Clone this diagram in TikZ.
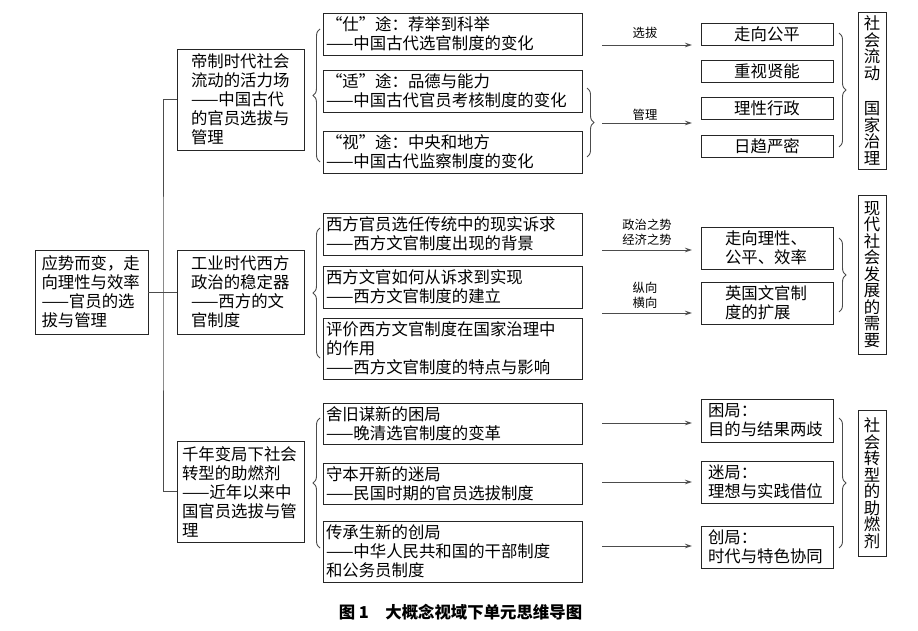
\documentclass[tikz,border=0pt]{standalone}
\usepackage{fontspec}
\setmainfont{Noto Sans CJK SC}
\usetikzlibrary{arrows.meta,decorations.pathreplacing}
\newcommand\oq{\makebox[16.4pt][r]{“}}
\newcommand\cq{\makebox[16.4pt][l]{”}}
\begin{document}
\begin{tikzpicture}[x=1pt,y=-1pt,
  line/.style={draw=black!70, line width=0.9pt},
  box/.style={draw=black!85, line width=0.9pt, inner sep=0pt, align=left, font=\fontsize{16.4}{19}\selectfont},
  l1box/.style={box, minimum width=127pt},
  l2box/.style={box, minimum width=259pt, text width=253pt},
  rbox/.style={box, minimum width=132pt},
  vbox/.style={draw=black!85, line width=0.9pt, inner sep=0pt, minimum width=28pt, text width=17pt, align=center, font=\fontsize{16.4}{16.5}\selectfont},
  lbl/.style={inner sep=0pt, align=center, font=\fontsize{12.3}{15}\selectfont},
  arr/.style={line, -{Stealth[length=7pt,width=4.5pt]}},
  brc/.style={line, decorate, decoration={brace, amplitude=7pt}},
]
\useasboundingbox (0,0) rectangle (918,631);

% root and level 1
\node[box, minimum width=113pt, minimum height=84pt, text width=100pt] (root) at (91.5,292) {应势而变，走\\向理性与效率\\——官员的选\\拔与管理};
\node[l1box, minimum height=101pt, text width=99pt] (L1a) at (240.5,99.5) {帝制时代社会\\流动的活力场\\——中国古代\\的官员选拔与\\管理};
\node[l1box, minimum height=84pt, text width=99pt] (L1b) at (240.5,292) {工业时代西方\\政治的稳定器\\——西方的文\\官制度};
\node[l1box, minimum height=101pt, text width=117pt] (L1c) at (240.5,491.5) {千年变局下社会\\转型的助燃剂\\——近年以来中\\国官员选拔与管\\理};

\coordinate (tr) at (163,292);
\draw[line] (root.east) -- (L1b.west);
\draw[line] (L1a.west) -| (tr) |- (L1c.west);

% level 2
\node[l2box, minimum height=42pt] (A1) at (452.5,34) {\oq 仕\cq 途：荐举到科举\\——中国古代选官制度的变化};
\node[l2box, minimum height=42pt] (A2) at (452.5,91) {\oq 适\cq 途：品德与能力\\——中国古代官员考核制度的变化};
\node[l2box, minimum height=42pt] (A3) at (452.5,152) {\oq 视\cq 途：中央和地方\\——中国古代监察制度的变化};
\node[l2box, minimum height=42pt] (B1) at (452.5,234) {西方官员选任传统中的现实诉求\\——西方文官制度出现的背景};
\node[l2box, minimum height=42pt] (B2) at (452.5,287) {西方文官如何从诉求到实现\\——西方文官制度的建立};
\node[l2box, minimum height=61pt] (B3) at (452.5,348.5) {评价西方文官制度在国家治理中\\的作用\\——西方文官制度的特点与影响};
\node[l2box, minimum height=41pt] (C1) at (452.5,423.5) {舍旧谋新的困局\\——晚清选官制度的变革};
\node[l2box, minimum height=41pt] (C2) at (452.5,483.5) {守本开新的迷局\\——民国时期的官员选拔制度};
\node[l2box, minimum height=61pt] (C3) at (452.5,551.5) {传承生新的创局\\——中华人民共和国的干部制度\\和公务员制度};

% left braces
\draw[brc] (320,162) -- (320,29);
\draw[brc] (320,358) -- (320,228);
\draw[brc] (320,548) -- (320,418);
% brace right of A2-A3
\draw[brc] (587,88) -- (587,157);

% arrows
\coordinate (s1) at (602,45);  \coordinate (e1) at (692,45);
\coordinate (s2) at (602,123); \coordinate (e2) at (692,123);
\coordinate (s3) at (602,250); \coordinate (e3) at (692,250);
\coordinate (s4) at (602,313); \coordinate (e4) at (692,313);
\coordinate (s5) at (602,423); \coordinate (e5) at (692,423);
\coordinate (s6) at (602,482); \coordinate (e6) at (692,482);
\coordinate (s7) at (602,546); \coordinate (e7) at (692,546);
\foreach \i in {1,...,7} {\draw[arr] (s\i) -- (e\i);}

\node[lbl] (lab1) at (645,33) {选拔};
\node[lbl] (lab2) at (645,115) {管理};
\node[lbl] (lab3) at (647,232.5) {政治之势\\经济之势};
\node[lbl] (lab4) at (645,295.5) {纵向\\横向};

% result boxes
\node[rbox, minimum height=22pt, text width=120pt, align=center] (R1) at (767,34) {走向公平};
\node[rbox, minimum height=22pt, text width=120pt, align=center] (R2) at (767,71) {重视贤能};
\node[rbox, minimum height=22pt, text width=120pt, align=center] (R3) at (767,108.5) {理性行政};
\node[rbox, minimum height=22pt, text width=120pt, align=center] (R4) at (767,146) {日趋严密};
\node[rbox, minimum height=42pt, text width=84pt] (R5) at (767,248) {走向理性、\\公平、效率};
\node[rbox, minimum height=42pt, text width=84pt] (R6) at (767,303) {英国文官制\\度的扩展};
\node[rbox, minimum height=43pt, text width=118pt] (R7) at (767,420.5) {困局：\\目的与结果两歧};
\node[rbox, minimum height=42pt, text width=118pt] (R8) at (767,482) {迷局：\\理想与实践借位};
\node[rbox, minimum height=42pt, text width=118pt] (R9) at (767,547) {创局：\\时代与特色协同};

% right braces
\draw[brc] (839,33) -- (839,147);
\draw[brc] (839,238) -- (839,312);
\draw[brc] (839,418) -- (839,548);

% vertical boxes
\node[vbox, minimum height=157pt] (V1) at (872,90.5) {社\\会\\流\\动\\[19pt]国\\家\\治\\理};
\node[vbox, minimum height=159pt] (V2) at (872,274.5) {现\\代\\社\\会\\发\\展\\的\\需\\要};
\node[vbox, minimum height=146pt] (V3) at (872,483) {社\\会\\转\\型\\的\\助\\燃\\剂};

% caption
\node[inner sep=0pt, font=\fontsize{16.4}{19}\selectfont\bfseries] (cap) at (460.5,612) {图 1\quad 大概念视域下单元思维导图};
\end{tikzpicture}
\end{document}
